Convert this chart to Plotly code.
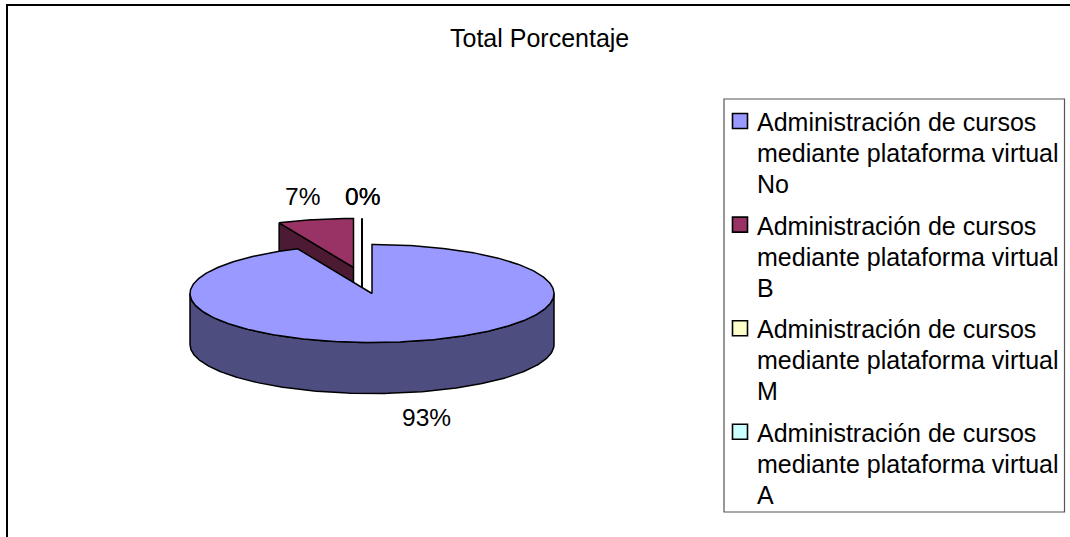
import numpy as np
import plotly.graph_objects as go

# --- data ---
categories = ["No", "B", "M", "A"]
series_prefix = "Administración de cursos"
series_middle = "mediante plataforma virtual"
percent_values = [93.3, 6.7, 0.0, 0.0]
percent_labels = ["93%", "7%", "0%", "0%"]
chart_title = "Total Porcentaje"

# --- style / layout ---
W, H = 1070, 537
top_colors = ["#9999FF", "#993366", "#FFFFCC", "#CCFFFF"]
side_colors = ["#4D4D80", "#4D1A33", "#80805F", "#5F8080"]
CX, CY, RX, RY, DEPTH = 372, 293.5, 182, 49, 51
EXPLODE = [(0, 0), (-18.5, -26), (-10, -26), (-10, -26)]
LEG_X0, LEG_X1, LEG_Y0, LEG_Y1 = 724, 1064.5, 99, 512
LEG_FS = 25
LEG_PITCH = 103.6
LINE = 31
LABEL_POS = [(426, 417), (302, 196), (362, 196), (362, 196)]
FONT = "Liberation Sans, Arial, sans-serif"


def pt(theta, ox=0, oy=0, dz=0):
    """theta clockwise from 12 o'clock (radians)."""
    return (CX + ox + RX * np.sin(theta), CY + oy - RY * np.cos(theta) + dz)


fig = go.Figure()
total = sum(percent_values)
fracs = np.cumsum([0] + percent_values) / total * 2 * np.pi


def add_poly(xs, ys, fill, name, lw=1.5):
    fig.add_trace(go.Scatter(x=list(xs), y=list(ys), mode="lines", fill="toself",
                             fillcolor=fill, line=dict(color="black", width=lw),
                             hoverinfo="skip", showlegend=False, name=name))


# slices are painted back to front: exploded small slices first, big one last
order = [3, 2, 1, 0]
for i in order:
    a0, a1 = fracs[i], fracs[i + 1]
    ox, oy = EXPLODE[i]
    th = np.linspace(a0, a1, max(int((a1 - a0) * 80), 2))
    name = categories[i]
    if a1 - a0 < 1e-9:
        # zero-size slice: only its cut edge and wall show as a line
        x1, y1 = pt(a0, ox, oy)
        ax, ay = CX + ox, CY + oy
        fig.add_trace(go.Scatter(x=[x1, ax, ax], y=[y1, ay, ay + DEPTH], mode="lines",
                                 line=dict(color="black", width=2), hoverinfo="skip",
                                 showlegend=False, name=name))
        continue
    # curved outer wall: the part of the rim that faces the viewer
    lo, hi = max(a0, np.pi / 2), min(a1, 3 * np.pi / 2)
    if hi > lo:
        wt = np.linspace(lo, hi, 200)
        top = [pt(t, ox, oy) for t in wt]
        bot = [pt(t, ox, oy, DEPTH) for t in wt[::-1]]
        pts = top + bot + top[:1]
        add_poly([p[0] for p in pts], [p[1] for p in pts], side_colors[i], name)
    # flat cut faces of a slice that does not span the rim's back
    if i != 0:
        ax, ay = CX + ox, CY + oy
        ex, ey = pt(a0, ox, oy)
        add_poly([ex, ax, ax, ex, ex], [ey, ay, ay + DEPTH, ey + DEPTH, ey], side_colors[i], name)
    # top face
    rim = [pt(t, ox, oy) for t in th]
    xs = [CX + ox] + [p[0] for p in rim] + [CX + ox]
    ys = [CY + oy] + [p[1] for p in rim] + [CY + oy]
    add_poly(xs, ys, top_colors[i], name)

# percent labels
for (lx, ly), txt in zip(LABEL_POS, percent_labels):
    fig.add_annotation(x=lx, y=ly, text=txt, showarrow=False,
                       font=dict(family=FONT, size=24.5, color="black"))

# title
fig.add_annotation(x=539, y=38, text=chart_title, showarrow=False,
                   font=dict(family=FONT, size=25, color="black"))

# chart frame and legend box
shapes = [
    dict(type="line", x0=7, x1=W, y0=5, y1=5, line=dict(color="black", width=2)),
    dict(type="line", x0=7, x1=7, y0=4, y1=H, line=dict(color="black", width=2)),
    dict(type="rect", x0=LEG_X0, x1=LEG_X1, y0=LEG_Y0, y1=LEG_Y1,
         line=dict(color="#555555", width=1.2), fillcolor="white", layer="below"),
]
for i, c in enumerate(categories):
    y0 = 122 + i * LEG_PITCH
    lines = [series_prefix, series_middle, c]
    for j, t in enumerate(lines):
        fig.add_annotation(x=755, y=y0 + j * LINE, text=t, showarrow=False, xanchor="left",
                           font=dict(family=FONT, size=LEG_FS, color="black"))
    fig.add_trace(go.Scatter(x=[740], y=[y0 - 1], mode="markers",
                             marker=dict(symbol="square", size=15, color=top_colors[i],
                                         line=dict(color="black", width=1.6)),
                             hoverinfo="skip", showlegend=False, name=c))

fig.update_layout(
    width=W, height=H, margin=dict(l=0, r=0, t=0, b=0, pad=0),
    paper_bgcolor="white", plot_bgcolor="white", shapes=shapes, showlegend=False,
    xaxis=dict(range=[0, W], visible=False, fixedrange=True),
    yaxis=dict(range=[H, 0], visible=False, fixedrange=True),
)
fig.write_html("out.html", config=dict(displayModeBar=False),
               post_script="document.body.style.margin='0';document.documentElement.style.overflow='hidden';")
